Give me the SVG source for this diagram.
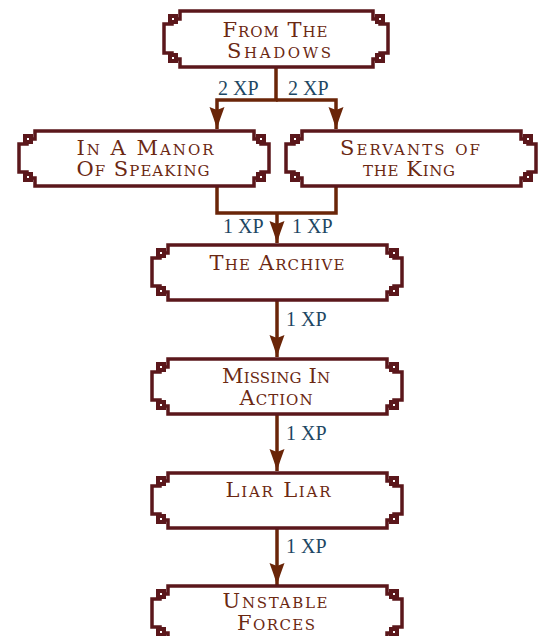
<svg xmlns="http://www.w3.org/2000/svg" xmlns:xlink="http://www.w3.org/1999/xlink" width="546" height="636" viewBox="0 0 546 636">
<style>
.fr{fill:#fff;stroke:#5b171b;stroke-width:3.5;stroke-linejoin:miter}
.sq{fill:#5b171b}
.dot{fill:#fff}
.t{font-family:"DejaVu Serif","Liberation Serif",serif;font-variant:small-caps;font-size:21px;fill:#6b2812;text-anchor:middle}
.lbl{font-family:"Liberation Serif",serif;font-size:20px;fill:#1d4763}
.c{fill:none;stroke:#6a2508;stroke-width:3.5}
</style>
<defs>
<marker id="ah" markerUnits="userSpaceOnUse" markerWidth="24" markerHeight="18" refX="22" refY="0" viewBox="0 -9 24 18" orient="auto" overflow="visible">
<path d="M0,-7.5 Q12,-3 22,0 Q12,3 0,7.5 L3,0 Z" fill="#6a2508"/>
</marker>
<g id="frame250">
<path class="fr" d="M16,0 H235 V8 H242 V13 H250 V41 H242 V47 H235 V55 H16 V47 H8 V41 H0 V13 H8 V8 H16 Z"/>
<rect class="sq" x="4" y="3" width="10" height="10"/>
<rect class="sq" x="237" y="3" width="10" height="10"/>
<rect class="sq" x="4" y="41" width="10" height="10"/>
<rect class="sq" x="237" y="41" width="10" height="10"/>
<rect class="dot" x="8" y="7" width="2" height="2"/>
<rect class="dot" x="241" y="7" width="2" height="2"/>
<rect class="dot" x="8" y="45" width="2" height="2"/>
<rect class="dot" x="241" y="45" width="2" height="2"/>
</g>
<g id="frame224">
<path class="fr" d="M16,0 H209 V8 H216 V13 H224 V42 H216 V48 H209 V56 H16 V48 H8 V42 H0 V13 H8 V8 H16 Z"/>
<rect class="sq" x="4" y="3" width="10" height="10"/>
<rect class="sq" x="211" y="3" width="10" height="10"/>
<rect class="sq" x="4" y="42" width="10" height="10"/>
<rect class="sq" x="211" y="42" width="10" height="10"/>
<rect class="dot" x="8" y="7" width="2" height="2"/>
<rect class="dot" x="215" y="7" width="2" height="2"/>
<rect class="dot" x="8" y="46" width="2" height="2"/>
<rect class="dot" x="215" y="46" width="2" height="2"/>
</g>
</defs>
<rect width="546" height="636" fill="#fff"/>
<g id="connectors">
<path class="c" d="M276,67 V100 H217 V129" marker-end="url(#ah)"/>
<path class="c" d="M276,100 H336 V129" marker-end="url(#ah)"/>
<path class="c" d="M217,186 V213 H336 V186"/>
<path class="c" d="M277,213 V243" marker-end="url(#ah)"/>
<path class="c" d="M277,300 V357" marker-end="url(#ah)"/>
<path class="c" d="M277,414 V471" marker-end="url(#ah)"/>
<path class="c" d="M277,528 V585" marker-end="url(#ah)"/>
<text class="lbl" x="218" y="95">2 XP</text>
<text class="lbl" x="288" y="95">2 XP</text>
<text class="lbl" x="223" y="233">1 XP</text>
<text class="lbl" x="292" y="233">1 XP</text>
<text class="lbl" x="286" y="326">1 XP</text>
<text class="lbl" x="286" y="440">1 XP</text>
<text class="lbl" x="286" y="553">1 XP</text>
</g>
<g id="from-the-shadows">
<use xlink:href="#frame224" transform="translate(164,11)"/>
<text class="t" x="275" y="37" textLength="105" lengthAdjust="spacing">From The</text>
<text class="t" x="279" y="58" textLength="104" lengthAdjust="spacing">Shadows</text>
</g>
<g id="in-a-manor-of-speaking">
<use xlink:href="#frame250" transform="translate(19,131)"/>
<text class="t" x="145" y="155" textLength="137" lengthAdjust="spacing">In A Manor</text>
<text class="t" x="143" y="176" textLength="133" lengthAdjust="spacing">Of Speaking</text>
</g>
<g id="servants-of-the-king">
<use xlink:href="#frame250" transform="translate(286,131)"/>
<text class="t" x="410" y="155" textLength="140" lengthAdjust="spacing">Servants of</text>
<text class="t" x="409" y="176" textLength="92" lengthAdjust="spacing">the King</text>
</g>
<g id="the-archive">
<use xlink:href="#frame250" transform="translate(152,245)"/>
<text class="t" x="277" y="270" textLength="135" lengthAdjust="spacing">The Archive</text>
</g>
<g id="missing-in-action">
<use xlink:href="#frame250" transform="translate(152,359)"/>
<text class="t" x="276" y="383" textLength="108" lengthAdjust="spacing">Missing In</text>
<text class="t" x="276" y="405" textLength="73" lengthAdjust="spacing">Action</text>
</g>
<g id="liar-liar">
<use xlink:href="#frame250" transform="translate(152,473)"/>
<text class="t" x="278" y="497" textLength="105" lengthAdjust="spacing">Liar Liar</text>
</g>
<g id="unstable-forces">
<use xlink:href="#frame250" transform="translate(152,586)"/>
<text class="t" x="275" y="608" textLength="105" lengthAdjust="spacing">Unstable</text>
<text class="t" x="276" y="630" textLength="78" lengthAdjust="spacing">Forces</text>
</g>
</svg>
